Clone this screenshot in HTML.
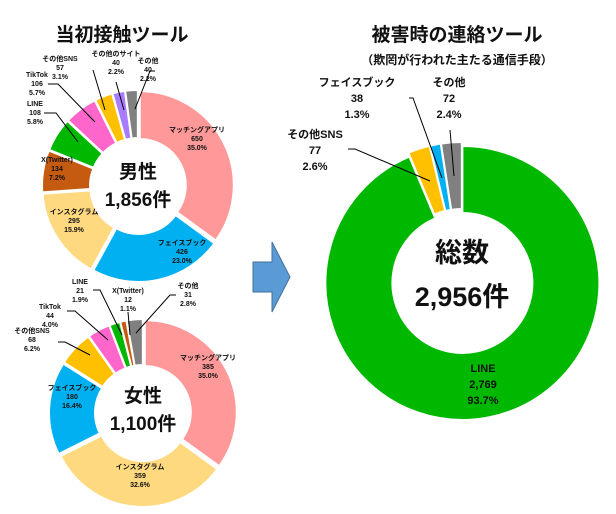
<!DOCTYPE html>
<html><head><meta charset="utf-8">
<style>
html,body{margin:0;padding:0;background:#fff;}
svg{display:block;font-family:"Liberation Sans","Noto Sans CJK JP",sans-serif;}
.t{font-weight:bold;fill:#111;}
</style></head>
<body>
<svg id="c" width="616" height="514" viewBox="0 0 616 514">
<text class="t" x="122" y="41" font-size="19" text-anchor="middle">当初接触ツール</text>
<text class="t" x="457" y="41" font-size="19" text-anchor="middle">被害時の連絡ツール</text>
<text class="t" x="457" y="64" font-size="12" text-anchor="middle">（欺罔が行われた主たる通信手段）</text>
<path d="M253,262 L272,262 L272,242 L290,277 L272,312 L272,292 L253,292 Z" fill="#5B9BD5" stroke="#41719C" stroke-width="1"/>
<g id="g1"></g>
<g id="g2"></g>
<g id="g3"></g>
</svg>
<script>
const maleCats=["マッチングアプリ","フェイスブック","インスタグラム","X(Twitter)","LINE","TikTok","その他SNS","その他のサイト","その他"];
const maleVals=[650,426,295,134,108,106,57,40,40];
const malePct=["35.0%","23.0%","15.9%","7.2%","5.8%","5.7%","3.1%","2.2%","2.2%"];
const maleColors=["#FF9999","#00B0F0","#FFD97F","#C55A11","#00B800","#FF66CC","#FFC000","#A87CFF","#808080"];
const femaleCats=["マッチングアプリ","インスタグラム","フェイスブック","その他SNS","TikTok","LINE","X(Twitter)","その他"];
const femaleVals=[385,359,180,68,44,21,12,31];
const femalePct=["35.0%","32.6%","16.4%","6.2%","4.0%","1.9%","1.1%","2.8%"];
const femaleColors=["#FF9999","#FFD97F","#00B0F0","#FFC000","#FF66CC","#00B800","#C55A11","#808080"];
const totalCats=["LINE","その他SNS","フェイスブック","その他"];
const totalVals=[2769,77,38,72];
const totalPct=["93.7%","2.6%","1.3%","2.4%"];
const totalColors=["#00B800","#FFC000","#00B0F0","#808080"];

const NS="http://www.w3.org/2000/svg";
function el(tag,attrs,parent){const e=document.createElementNS(NS,tag);for(const k in attrs)e.setAttribute(k,attrs[k]);parent.appendChild(e);return e;}
function fmt(v){return v.toLocaleString("en-US");}
function donut(g,vals,colors,cx,cy,r0,r1,explode){
  const tot=vals.reduce((a,b)=>a+b,0);let a=0;
  vals.forEach((v,i)=>{
    const a0=a/tot*2*Math.PI,a1=(a+v)/tot*2*Math.PI;a+=v;
    const am=(a0+a1)/2,dx=explode*Math.sin(am),dy=-explode*Math.cos(am);
    const p=(r,t)=>[(cx+dx+r*Math.sin(t)).toFixed(2),(cy+dy-r*Math.cos(t)).toFixed(2)];
    const lg=(a1-a0)>Math.PI?1:0;
    const [x0,y0]=p(r1,a0),[x1,y1]=p(r1,a1),[x2,y2]=p(r0,a1),[x3,y3]=p(r0,a0);
    const path=el("path",{d:`M${x0},${y0} A${r1},${r1} 0 ${lg} 1 ${x1},${y1} L${x2},${y2} A${r0},${r0} 0 ${lg} 0 ${x3},${y3} Z`,fill:colors[i],stroke:"#fff","stroke-width":2},g);
    
    
  });
}
function label(g,lines,x,y,fs,lh,name){
  const t=el("text",{x:x,y:y,"font-size":fs,"text-anchor":"middle",class:"t"},g);
  
  
  lines.forEach((s,i)=>{const ts=el("tspan",{x:x,dy:i?lh:0},t);ts.textContent=s;});
}
function leader(g,pts){const l=el("polyline",{points:pts,fill:"none",stroke:"#000","stroke-width":1},g);
  
  }

// Male
const g1=document.getElementById("g1");
donut(g1,maleVals,maleColors,138,186,46,94,2);
const mPos=[[197,132],[182,245],[74,214],[57,162],[35,106],[37,77],[60,61],[116,56],[148,63]];
maleCats.forEach((c,i)=>label(g1,[c,fmt(maleVals[i]),malePct[i]],mPos[i][0],mPos[i][1],7,9,"male-label"));
leader(g1,"44,113 56,113 78,142");
leader(g1,"48,84 58,84 95,122");
leader(g1,"93,70 105,110");
leader(g1,"116,82 124,110");
leader(g1,"155,71 150,71 135,109");
label(g1,["男性"],138,178,19,0,"male-center-label");
label(g1,["1,856件"],138,206,19,0,"male-center-count");

// Female
const g2=document.getElementById("g2");
donut(g2,femaleVals,femaleColors,143,413,46,92,2);
const fPos=[[208,360],[140,469],[72,390],[32,333],[50,309],[80,284],[128,293],[188,288]];
femaleCats.forEach((c,i)=>label(g2,[c,fmt(femaleVals[i]),femalePct[i]],fPos[i][0],fPos[i][1],7,9,"female-label"));
leader(g2,"58,342 65,342 90,355");
leader(g2,"67,311 75,311 108,340");
leader(g2,"93,290 100,290 122,335");
leader(g2,"128,312 130,335");
leader(g2,"176,295 170,295 136,333");
label(g2,["女性"],143,402,19,0,"female-center-label");
label(g2,["1,100件"],143,430,19,0,"female-center-count");

// Total
const g3=document.getElementById("g3");
donut(g3,totalVals,totalColors,462,281,70,137,2);
label(g3,[totalCats[0],fmt(totalVals[0]),totalPct[0]],483,372,11,16,"total-label-line");
label(g3,[totalCats[1],fmt(totalVals[1]),totalPct[1]],315,138,11,16,"total-label-other-sns");
label(g3,[totalCats[2],fmt(totalVals[2]),totalPct[2]],357,86,11,16,"total-label-facebook");
label(g3,[totalCats[3],fmt(totalVals[3]),totalPct[3]],449,86,11,16,"total-label-other");
leader(g3,"348,149 355,149 430,181");
leader(g3,"409,98 413,98 442,178");
leader(g3,"450,130 454,176");
label(g3,["総数"],462,262,27,0,"total-center-label");
label(g3,["2,956件"],462,306,27,0,"total-center-count");
</script>
</body></html>
